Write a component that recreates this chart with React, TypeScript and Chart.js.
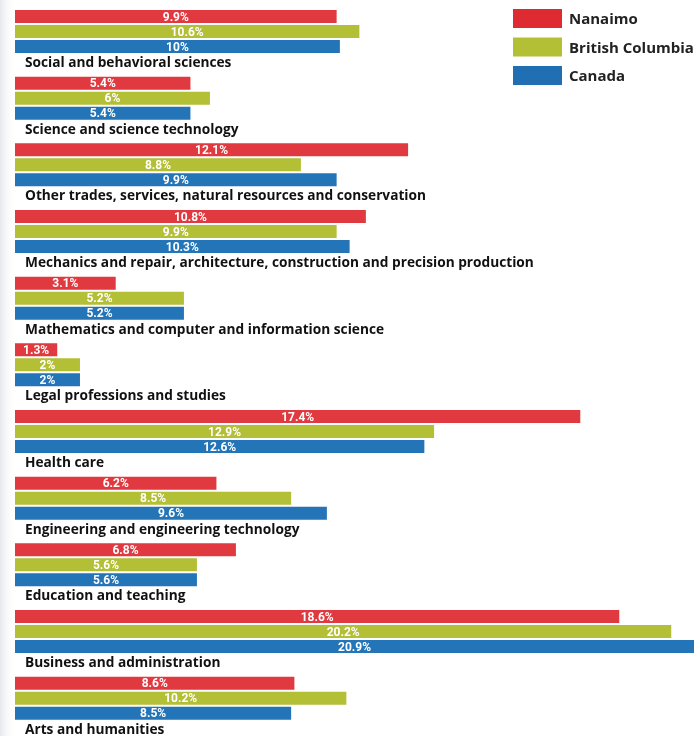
import React, { useEffect, useRef } from "react";
import { Chart, registerables } from "chart.js";
Chart.register(...registerables);

const categories = [
  "Social and behavioral sciences",
  "Science and science technology",
  "Other trades, services, natural resources and conservation",
  "Mechanics and repair, architecture, construction and precision production",
  "Mathematics and computer and information science",
  "Legal professions and studies",
  "Health care",
  "Engineering and engineering technology",
  "Education and teaching",
  "Business and administration",
  "Arts and humanities",
];
const nanaimo = [9.9, 5.4, 12.1, 10.8, 3.1, 1.3, 17.4, 6.2, 6.8, 18.6, 8.6];
const britishColumbia = [10.6, 6, 8.8, 9.9, 5.2, 2, 12.9, 8.5, 5.6, 20.2, 10.2];
const canada = [10, 5.4, 9.9, 10.3, 5.2, 2, 12.6, 9.6, 5.6, 20.9, 8.5];
const seriesNames = ["Nanaimo", "British Columbia", "Canada"];
const seriesColors = ["#E0393F", "#B3BF35", "#2475B7"];
const legendColors = ["#DD2B31", "#B3BF35", "#1F6FB2"];

export default function App() {
  const ref = useRef<HTMLCanvasElement>(null);
  useEffect(() => {
    const canvas = ref.current!;
    const series = [nanaimo, britishColumbia, canada];
    const customPlugin = {
      id: "customDraw",
      beforeDraw(chart: any) {
        const ctx = chart.ctx;
        ctx.save();
        const g = ctx.createLinearGradient(0, 0, 16, 0);
        g.addColorStop(0, "rgba(226,230,234,0.9)");
        g.addColorStop(1, "rgba(255,255,255,0)");
        ctx.fillStyle = g;
        ctx.fillRect(0, 0, 16, chart.height);
        ctx.restore();
      },
      afterDatasetsDraw(chart: any) {
        const ctx = chart.ctx;
        ctx.save();
        // value labels
        ctx.font = "bold 12px Roboto";
        ctx.fillStyle = "#ffffff";
        ctx.textAlign = "center";
        ctx.textBaseline = "middle";
        for (let d = 0; d < 3; d++) {
          const meta = chart.getDatasetMeta(d);
          meta.data.forEach((bar: any, i: number) => {
            const p = bar.getProps(["x", "y", "base"], true);
            const cx = (p.base + p.x) / 2;
            ctx.fillText(series[d][i] + "%", cx, p.y + 1);
          });
        }
        // category labels
        const yScale = chart.scales.y;
        const band = yScale.height / categories.length;
        ctx.font = "bold 13.7px 'Open Sans'";
        ctx.fillStyle = "#111111";
        ctx.textAlign = "left";
        ctx.textBaseline = "middle";
        categories.forEach((c, i) => {
          const center = yScale.getPixelForValue(i);
          ctx.fillText(c, 25, center + band * 0.3375 + 1.5);
        });
        // legend
        ctx.font = "bold 15px 'Open Sans'";
        seriesNames.forEach((n, i) => {
          const y = 9 + i * 28.5;
          ctx.fillStyle = legendColors[i];
          ctx.fillRect(513, y, 49, 19);
          ctx.fillStyle = "#222222";
          ctx.fillText(n, 569, y + 11);
        });
        ctx.restore();
      },
    };
    const chart = new Chart(canvas, {
      type: "bar",
      data: {
        labels: categories,
        datasets: [
          ...series.map((data, i) => ({
            label: seriesNames[i],
            data,
            backgroundColor: seriesColors[i],
            borderWidth: 0,
          })),
          {
            label: "",
            data: categories.map(() => null),
            backgroundColor: "rgba(0,0,0,0)",
          },
        ],
      },
      options: {
        indexAxis: "y",
        animation: false,
        responsive: false,
        maintainAspectRatio: false,
        layout: { padding: { left: 15, right: 5, top: 5.67, bottom: 1 } },
        scales: {
          x: { display: false, min: 0, max: 20.9 },
          y: { display: false },
        },
        plugins: { legend: { display: false }, tooltip: { enabled: false } },
        datasets: { bar: { categoryPercentage: 0.9, barPercentage: 0.867 } },
      } as any,
      plugins: [customPlugin],
    } as any);
    return () => chart.destroy();
  }, []);
  return (
    <div
      style={{
        position: "fixed",
        left: 0,
        top: 0,
        width: 699,
        height: 736,
        overflow: "hidden",
        background: "#ffffff",
      }}
    >
      <canvas
        ref={ref}
        width={699}
        height={740}
        style={{ display: "block", width: 699, height: 740 }}
      />
    </div>
  );
}
